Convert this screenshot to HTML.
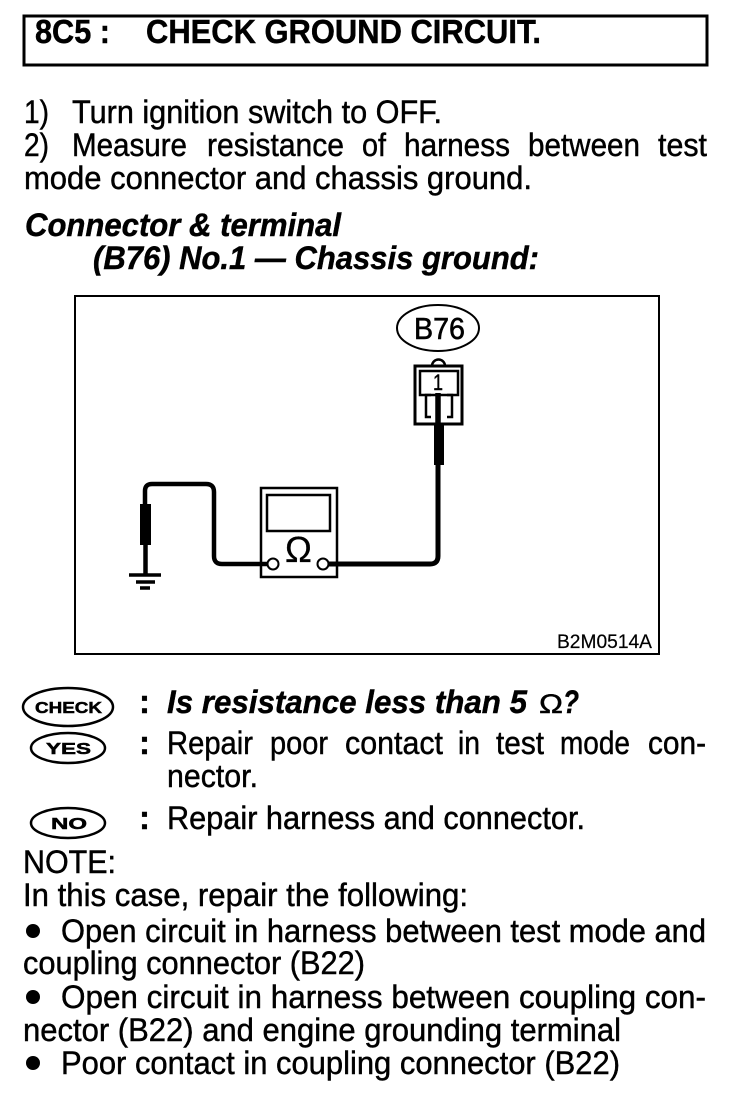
<!DOCTYPE html>
<html><head><meta charset="utf-8"><style>
html,body{margin:0;padding:0;background:#fff}
svg{display:block}
text{font-family:"Liberation Sans",sans-serif;font-size:32px;fill:#000;stroke:#000;stroke-width:.45}
.b{font-weight:bold;font-size:33px}
.bi{font-weight:bold;font-style:italic;font-size:32px}
</style></head><body>
<svg width="752" height="1102" viewBox="0 0 752 1102" xmlns="http://www.w3.org/2000/svg">
<rect width="752" height="1102" fill="#fff"/>
<rect x="24" y="16" width="683" height="49" fill="none" stroke="#000" stroke-width="3"/>
<text class="b" x="35" y="43" textLength="75" lengthAdjust="spacingAndGlyphs">8C5 :</text>
<text class="b" x="146" y="43" textLength="395" lengthAdjust="spacingAndGlyphs">CHECK GROUND CIRCUIT.</text>

<text x="24" y="123" textLength="25" lengthAdjust="spacingAndGlyphs">1)</text>
<text x="72" y="123" textLength="370" lengthAdjust="spacingAndGlyphs">Turn ignition switch to OFF.</text>
<text x="24" y="156" textLength="25" lengthAdjust="spacingAndGlyphs">2)</text>
<text x="72" y="156" textLength="115" lengthAdjust="spacingAndGlyphs">Measure</text>
<text x="207" y="156" textLength="137" lengthAdjust="spacingAndGlyphs">resistance</text>
<text x="362" y="156" textLength="24" lengthAdjust="spacingAndGlyphs">of</text>
<text x="404" y="156" textLength="106" lengthAdjust="spacingAndGlyphs">harness</text>
<text x="528" y="156" textLength="112" lengthAdjust="spacingAndGlyphs">between</text>
<text x="658" y="156" textLength="49" lengthAdjust="spacingAndGlyphs">test</text>
<text x="24" y="189" textLength="508" lengthAdjust="spacingAndGlyphs">mode connector and chassis ground.</text>

<text class="bi" x="25" y="236" textLength="316" lengthAdjust="spacingAndGlyphs">Connector &amp; terminal</text>
<text class="bi" x="93" y="269" textLength="446" lengthAdjust="spacingAndGlyphs">(B76) No.1 — Chassis ground:</text>

<rect x="75" y="296" width="584" height="358" fill="none" stroke="#000" stroke-width="2"/>
<ellipse cx="438" cy="328" rx="41" ry="23" fill="none" stroke="#000" stroke-width="2"/>
<text x="414" y="339" textLength="51" lengthAdjust="spacingAndGlyphs" style="font-size:31px;stroke-width:.6">B76</text>
<path d="M432 366a6.500 6.500 0 0 1 13 0" fill="none" stroke="#000" stroke-width="2.500"/>
<rect x="415" y="366" width="47" height="58" fill="none" stroke="#000" stroke-width="3"/>
<rect x="420" y="371" width="38" height="24" fill="none" stroke="#000" stroke-width="2.500"/>
<path d="M431 395h-5v22h5M447 395h5v22h-5" fill="none" stroke="#000" stroke-width="2.500"/>
<text x="433" y="390" textLength="10" lengthAdjust="spacingAndGlyphs" style="font-size:22px;stroke-width:.4">1</text>
<path d="M438 393V425" stroke="#000" stroke-width="5.500"/>
<rect x="434" y="424" width="10" height="41" fill="#000"/>
<path d="M438 465V556Q438 564 430 564H329" fill="none" stroke="#000" stroke-width="5"/>

<rect x="261" y="488" width="76" height="89" fill="none" stroke="#000" stroke-width="2.500"/>
<rect x="267" y="495" width="63" height="36" fill="none" stroke="#000" stroke-width="2.500"/>
<text x="285" y="562" style="font-size:36px;stroke-width:.3">Ω</text>
<circle cx="273" cy="564" r="5.500" fill="#fff" stroke="#000" stroke-width="2"/>
<circle cx="323" cy="564" r="5.500" fill="#fff" stroke="#000" stroke-width="2"/>
<path d="M267 564H222Q214 564 214 556V492Q214 484 206 484H152Q145 484 145 491V504" fill="none" stroke="#000" stroke-width="4.500"/>
<rect x="140" y="504" width="11" height="41" fill="#000"/>
<path d="M145.500 545V574" stroke="#000" stroke-width="4.500"/>
<path d="M129 575H161M136 582H155M140 588H150" stroke="#000" stroke-width="3.500"/>
<text x="557" y="648" textLength="95" lengthAdjust="spacingAndGlyphs" style="font-size:19px;stroke-width:.2">B2M0514A</text>

<ellipse cx="68" cy="707" rx="45" ry="19" fill="none" stroke="#000" stroke-width="2.500"/>
<text class="b" x="35" y="713" textLength="67" lengthAdjust="spacingAndGlyphs" style="font-size:16px;stroke-width:.5">CHECK</text>
<ellipse cx="68" cy="748" rx="37" ry="15" fill="none" stroke="#000" stroke-width="2.500"/>
<text class="b" x="46" y="754" textLength="45" lengthAdjust="spacingAndGlyphs" style="font-size:16px;stroke-width:.5">YES</text>
<ellipse cx="68" cy="823" rx="37" ry="15" fill="none" stroke="#000" stroke-width="2.500"/>
<text class="b" x="51" y="829" textLength="36" lengthAdjust="spacingAndGlyphs" style="font-size:16px;stroke-width:.5">NO</text>

<text class="b" x="139" y="713">:</text>
<text class="bi" x="167" y="713" textLength="360" lengthAdjust="spacingAndGlyphs">Is resistance less than 5</text>
<text x="539" y="713" textLength="24" lengthAdjust="spacingAndGlyphs" style="font-size:27px">Ω</text>
<text class="bi" x="563" y="713" textLength="16" lengthAdjust="spacingAndGlyphs">?</text>
<text class="b" x="139" y="754">:</text>
<text x="167" y="754" textLength="86" lengthAdjust="spacingAndGlyphs">Repair</text>
<text x="270" y="754" textLength="58" lengthAdjust="spacingAndGlyphs">poor</text>
<text x="345" y="754" textLength="98" lengthAdjust="spacingAndGlyphs">contact</text>
<text x="458" y="754" textLength="22" lengthAdjust="spacingAndGlyphs">in</text>
<text x="496" y="754" textLength="48" lengthAdjust="spacingAndGlyphs">test</text>
<text x="560" y="754" textLength="70" lengthAdjust="spacingAndGlyphs">mode</text>
<text x="648" y="754" textLength="58" lengthAdjust="spacingAndGlyphs">con-</text>
<text x="167" y="787" textLength="91" lengthAdjust="spacingAndGlyphs">nector.</text>
<text class="b" x="139" y="829">:</text>
<text x="167" y="829" textLength="418" lengthAdjust="spacingAndGlyphs">Repair harness and connector.</text>

<text x="23" y="873" textLength="93" lengthAdjust="spacingAndGlyphs">NOTE:</text>
<text x="23" y="906" textLength="445" lengthAdjust="spacingAndGlyphs">In this case, repair the following:</text>
<circle cx="33" cy="931" r="7" fill="#000"/>
<text x="61" y="942" textLength="645" lengthAdjust="spacingAndGlyphs">Open circuit in harness between test mode and</text>
<text x="23" y="974" textLength="342" lengthAdjust="spacingAndGlyphs">coupling connector (B22)</text>
<circle cx="33" cy="997" r="7" fill="#000"/>
<text x="61" y="1008" textLength="645" lengthAdjust="spacingAndGlyphs">Open circuit in harness between coupling con-</text>
<text x="23" y="1041" textLength="598" lengthAdjust="spacingAndGlyphs">nector (B22) and engine grounding terminal</text>
<circle cx="33" cy="1063" r="7" fill="#000"/>
<text x="61" y="1074" textLength="559" lengthAdjust="spacingAndGlyphs">Poor contact in coupling connector (B22)</text>
</svg>
</body></html>
